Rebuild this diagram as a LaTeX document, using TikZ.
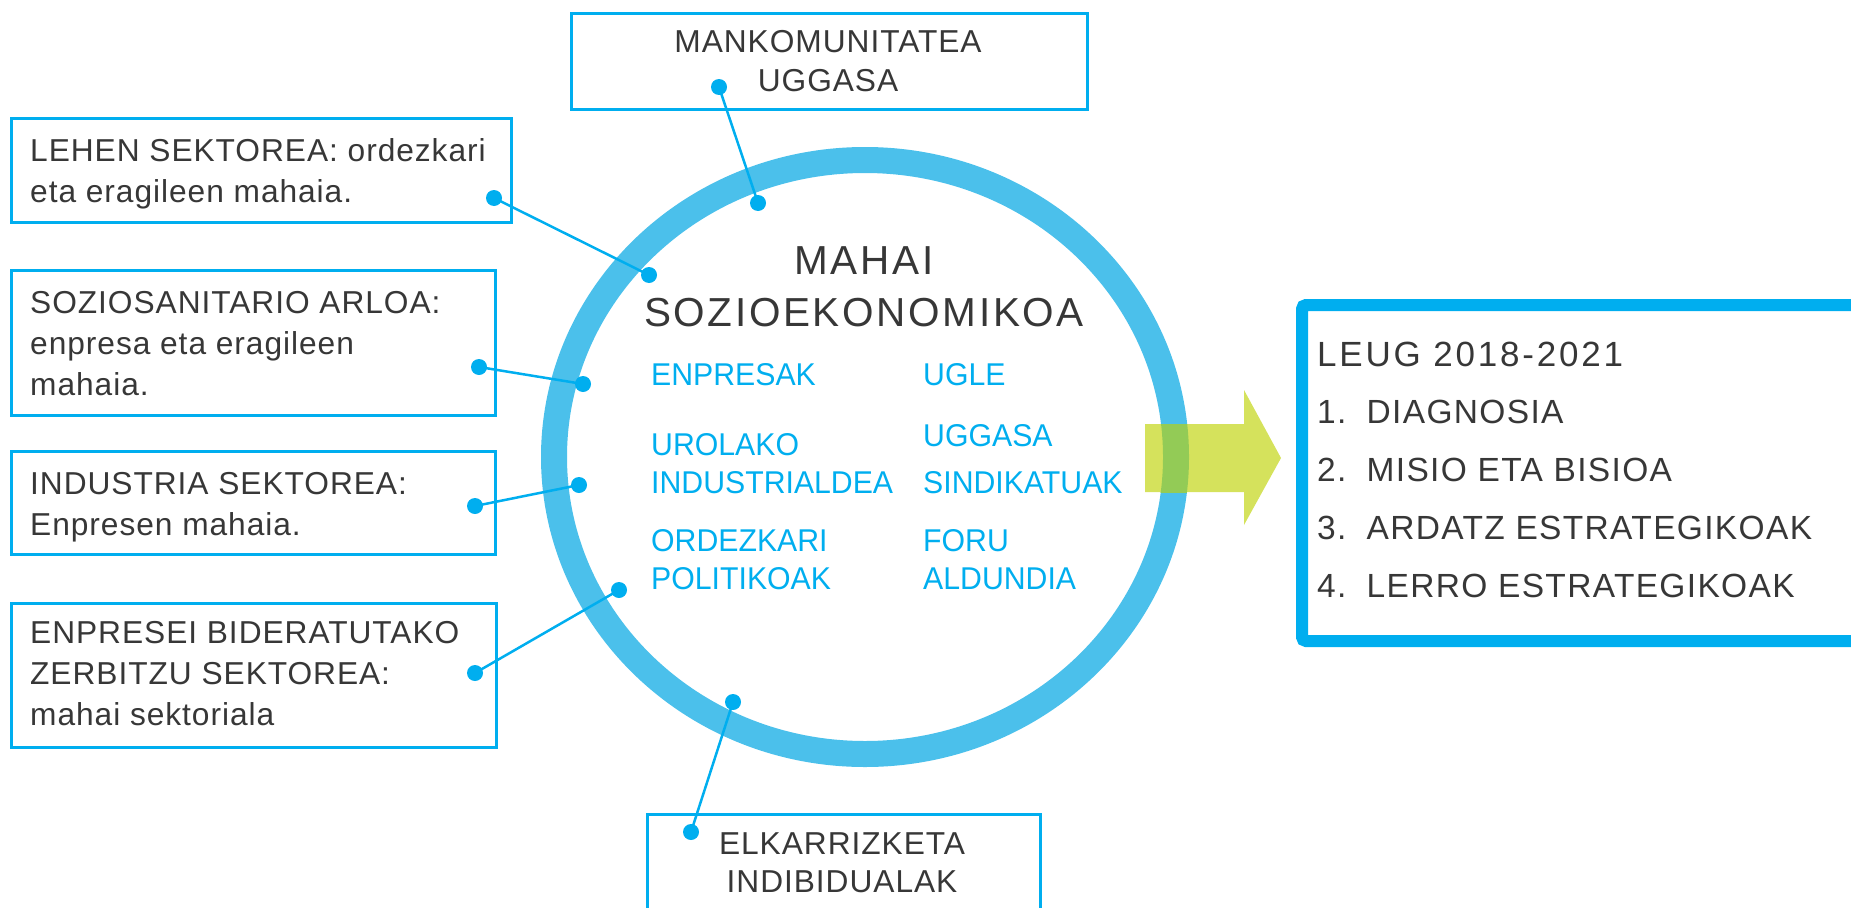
\documentclass[tikz,border=0pt]{standalone}
\usepackage{fontspec}
\setmainfont{Liberation Sans}
\newfontfamily\sidefont[LetterSpace=3]{Liberation Sans}
\newfontfamily\mahaifont[LetterSpace=6.5]{Liberation Sans}
\newfontfamily\kidefont[FakeStretch=0.96]{Liberation Sans}
\newfontfamily\leugfont[LetterSpace=8]{Liberation Sans}
\newfontfamily\urratsfont[LetterSpace=4]{Liberation Sans}
\definecolor{ringblue}{RGB}{75,192,235}
\definecolor{lineblue}{RGB}{0,174,239}
\definecolor{darktext}{RGB}{55,55,55}
\definecolor{arrowgreen}{RGB}{213,226,92}
\definecolor{overlapgreen}{RGB}{147,203,86}

\begin{document}
\begin{tikzpicture}[x=1pt, y=-1pt,
    sidebox/.style={draw=lineblue, line width=2.8pt, inner sep=0pt, anchor=north west},
    sidetext/.style={anchor=base west, align=left, inner sep=0pt, text=darktext,
      font=\sidefont\fontsize{31.7}{41}\selectfont},
    centertext/.style={anchor=base, align=center, inner sep=0pt, text=darktext,
      font=\sidefont\fontsize{31.7}{38.5}\selectfont},
    member/.style={anchor=base west, align=left, inner sep=0pt, text=lineblue,
      font=\kidefont\fontsize{31.5}{37.5}\selectfont},
    bead/.style={circle, fill=lineblue, inner sep=0pt, minimum size=16pt},
    link/.style={draw=lineblue, line width=2.5pt},
    ring/.style={draw=ringblue, line width=26pt},
  ]
  \useasboundingbox (0,0) rectangle (1851,907);
  \clip (0,0) rectangle (1851,907);

  % mahaia (testu anitzen base = azken lerroa)
  \draw[ring] (865,457) ellipse [x radius=311, y radius=297];
  \fill[arrowgreen] (1145,424) -- (1244,424) -- (1244,390) -- (1281,458)
    -- (1244,525) -- (1244,492) -- (1145,492) -- cycle;
  \begin{scope}
    \clip (1145,424) rectangle (1244,492);
    \draw[ring, draw=overlapgreen] (865,457) ellipse [x radius=311, y radius=297];
  \end{scope}
  \node[anchor=base, align=center, inner sep=0pt, text=darktext,
    font=\mahaifont\fontsize{40.5}{52}\selectfont] (mahai) at (864,326) {MAHAI\\SOZIOEKONOMIKOA};
  \node[member] (enpresak)   at (651,385) {ENPRESAK};
  \node[member] (urola)      at (651,493) {UROLAKO\\INDUSTRIALDEA};
  \node[member] (ordezkari)  at (651,589) {ORDEZKARI\\POLITIKOAK};
  \node[member] (ugle)       at (923,385) {UGLE};
  \node[member] (uggasa)     at (923,493) {UGGASA\\[9pt]SINDIKATUAK};
  \node[member] (foru)       at (923,589) {FORU\\ALDUNDIA};

  % inguruko mahaiak
  \node[sidebox, minimum width=516, minimum height=96]  (manko)     at (570,12)  {};
  \node[centertext]                                     (mankotxt)  at (828,91)  {MANKOMUNITATEA\\UGGASA};
  \node[sidebox, minimum width=500, minimum height=104] (lehen)     at (10,117)  {};
  \node[sidetext]                                       (lehentxt)  at (30,202)  {LEHEN SEKTOREA: ordezkari\\eta eragileen mahaia.};
  \node[sidebox, minimum width=484, minimum height=145] (sozio)     at (10,269)  {};
  \node[sidetext]                                       (soziotxt)  at (30,395)  {SOZIOSANITARIO ARLOA:\\enpresa eta eragileen\\mahaia.};
  \node[sidebox, minimum width=484, minimum height=103] (industria) at (10,450)  {};
  \node[sidetext]                                       (industriatxt) at (30,535) {INDUSTRIA SEKTOREA:\\Enpresen mahaia.};
  \node[sidebox, minimum width=485, minimum height=144] (zerbitzu)  at (10,602)  {};
  \node[sidetext]                                       (zerbitzutxt) at (30,725) {ENPRESEI BIDERATUTAKO\\ZERBITZU SEKTOREA:\\mahai sektoriala};
  \node[sidebox, minimum width=393, minimum height=130] (elkar)     at (646,813) {};
  \node[centertext, font=\sidefont\fontsize{31.7}{38}\selectfont]
                                                        (elkartxt)  at (842,892) {ELKARRIZKETA\\INDIBIDUALAK};

  % loturak
  \node[bead] (mankoA)     at (719,87)  {};
  \node[bead] (mankoB)     at (758,203) {};
  \node[bead] (lehenA)     at (494,198) {};
  \node[bead] (lehenB)     at (649,275) {};
  \node[bead] (sozioA)     at (479,367) {};
  \node[bead] (sozioB)     at (583,384) {};
  \node[bead] (industriaA) at (475,506) {};
  \node[bead] (industriaB) at (579,485) {};
  \node[bead] (zerbitzuA)  at (475,673) {};
  \node[bead] (zerbitzuB)  at (619,590) {};
  \node[bead] (elkarA)     at (691,832) {};
  \node[bead] (elkarB)     at (733,702) {};
  \draw[link] (mankoA.center) -- (mankoB.center);
  \draw[link] (lehenA.center) -- (lehenB.center);
  \draw[link] (sozioA.center) -- (sozioB.center);
  \draw[link] (industriaA.center) -- (industriaB.center);
  \draw[link] (zerbitzuA.center) -- (zerbitzuB.center);
  \draw[link] (elkarA.center) -- (elkarB.center);

  % LEUG
  \node[draw=lineblue, line width=12pt, rounded corners=4pt, inner sep=0pt, anchor=north west,
    minimum width=560, minimum height=336] (leug) at (1296,299) {};
  \node[anchor=base west, inner sep=0pt, text=darktext,
    font=\leugfont\fontsize{35}{42}\selectfont] (leugtitle) at (1317,366) {LEUG 2018-2021};
  \node[anchor=base west, align=left, inner sep=0pt, text=darktext,
    font=\urratsfont\fontsize{33.5}{57.7}\selectfont] (urratsak) at (1317,597)
    {1.\hspace{6pt} DIAGNOSIA\\2.\hspace{6pt} MISIO ETA BISIOA\\3.\hspace{6pt} ARDATZ ESTRATEGIKOAK\\4.\hspace{6pt} LERRO ESTRATEGIKOAK};
\end{tikzpicture}
\end{document}
